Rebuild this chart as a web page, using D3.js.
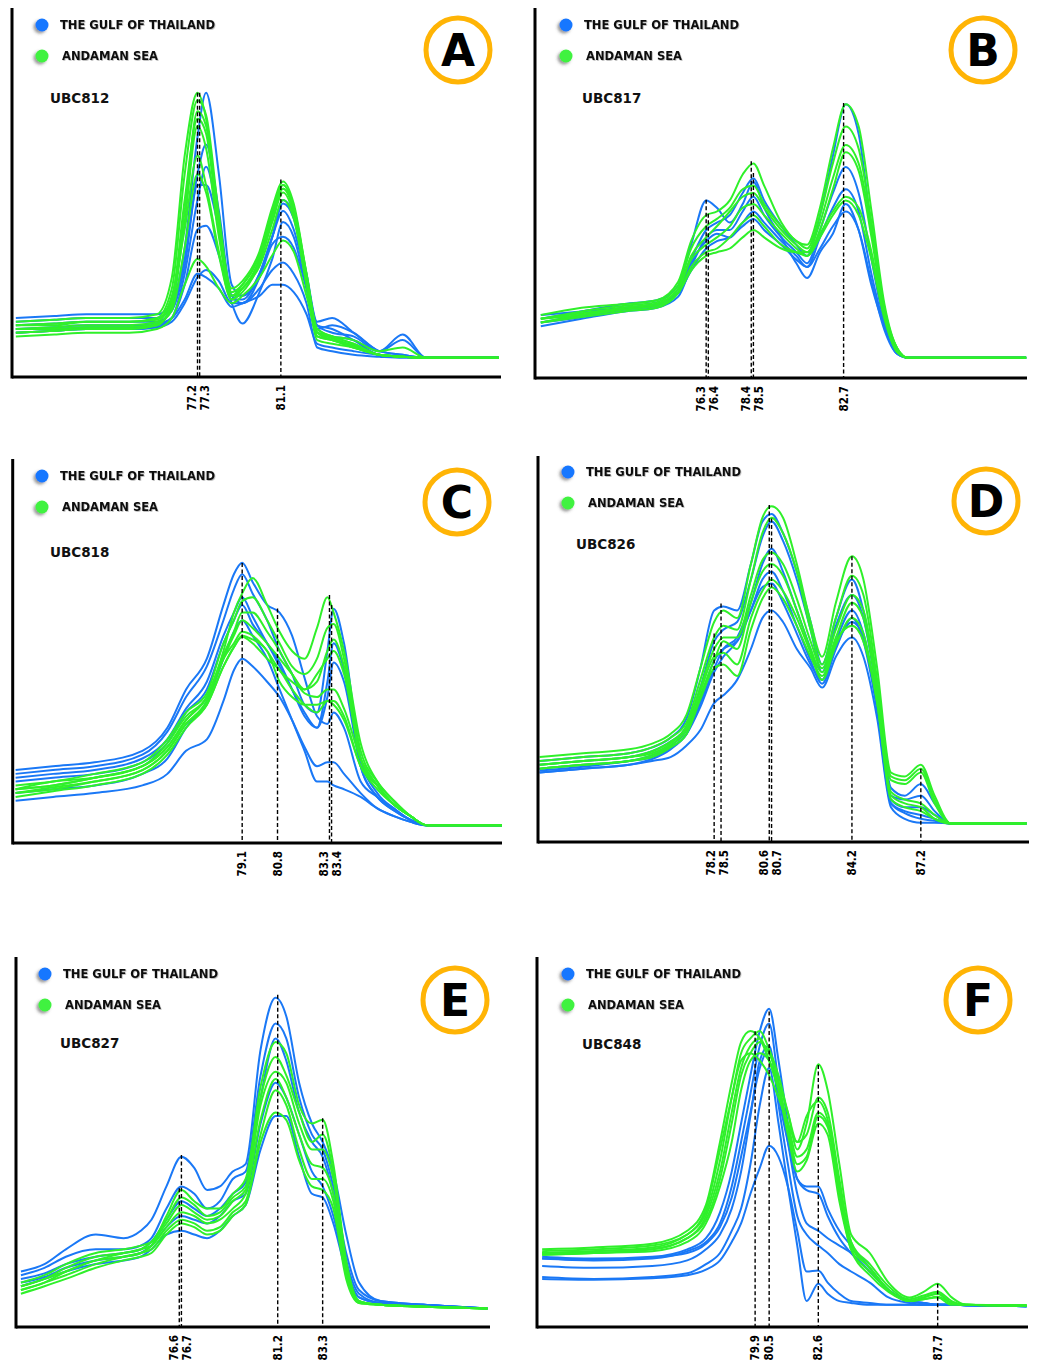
<!DOCTYPE html>
<html><head><meta charset="utf-8">
<script src="https://cdn.jsdelivr.net/npm/d3@7"></script>
<style>body{margin:0;background:#fff}svg{display:block}</style>
</head><body>
<svg id="chart" width="1037" height="1361"></svg>
<script>
// ---------------- DATA ----------------
const seriesNames = ["THE GULF OF THAILAND", "ANDAMAN SEA"];
const panelLetters = ["A", "B", "C", "D", "E", "F"];
const markerNames = ["UBC812", "UBC817", "UBC818", "UBC826", "UBC827", "UBC848"];
const xDomains = [[68.52, 91.40], [68.33, 91.24], [68.06, 91.6], [70.53, 91.91], [68.97, 91.12], [70.58, 91.56]];

// Panel A – UBC812
const tempsA = [68.7,70.5,72,74,75.3,76.0,76.6,77.2,77.6,78.2,78.8,79.3,80.1,80.7,81.2,81.7,82.3,82.8,83.5,84.5,85.7,86.8,87.9,89.5,91.3];
const blueA = [
 [16,16.5,17,17,17,20,35,65,77,55,25,22,28,38,45,40,26,14,13,10,6,5.5,5.2,5.2,5.2],
 [15,15.5,16,16,16,19,32,55,63,45,22,20,27,38,48,44,28,15,16,12,7,6,5.2,5.2,5.2],
 [12,12.5,13,13,13.5,16,28,48,57,42,21,21,28,38,47,43,27,14,12,11,7,11.5,5.2,5.2,5.2],
 [13,13,13.5,13.5,14,16,25,40,41,33,20,14.5,23,32,42,38,24,12,11,10,7,10,5.2,5.2,5.2],
 [12,12.5,13,13,13.5,15,20,27,29,26,20,20,24,29,31,28,20,8,7,6,5.5,5.2,5.2,5.2,5.2],
 [13,13.5,14,14,14.5,16,21,28,27,24,19,20,22,25,25,23,17,9,8,7,6,5.5,5.2,5.2,5.2],
 [14,14.5,15,15,15,18,30,52,52,40,22,22,27,36,38,35,24,13,14,12,7,6,5.2,5.2,5.2]
];
const greenA = [
 [15,15.5,16,16,17,27,60,77,70,42,24,26,34,46,53,47,28,13,11,9,6,5.5,5.2,5.2,5.2],
 [14,14.5,15,15,16,24,55,75,71,44,23,25,33,45,52,46,27,12,10.5,8.5,6,5.5,5.2,5.2,5.2],
 [13,13.5,14,14,15,21,48,70,66,40,22,24,32,44,51,45,26,11,10,8,6,5.5,5.2,5.2,5.2],
 [12,12.5,13,13,14,19,42,68,62,38,22,24,31,42,50,44,25,10,9,8,6,5.5,5.2,5.2,5.2],
 [13,13,13.5,13.5,14.5,18,35,55,50,33,21,24,30,40,48,43,25,11,10,8,6,5.5,5.2,5.2,5.2],
 [11,11.5,12,12,13,16,25,32,30,24,20,22,27,33,37,34,22,12,11,10,7,8,5.2,5.2,5.2],
 [12,12.5,13,13,14,20,45,72,68,41,22,25,33,45,52,46,27,12,10,8.5,6,5.5,5.2,5.2,5.2],
 [14,14,15,15,15.5,22,40,60,52,34,21,23,31,43,51,46,28,13,11,9,6,5.5,5.2,5.2,5.2]
];
const ticksA = [77.2, 77.3, 81.1];
const tickTopsA = [77, 77, 53.5];

// Panel B – UBC817
const tempsB = [68.6,70.5,72.5,74,75,75.6,76.3,76.8,77.4,78.0,78.5,79.0,79.8,80.5,81.0,81.6,82.2,82.8,83.4,84.0,84.6,85.2,85.7,88,91.2];
const blueB = [
 [16,18,20,21,25,36,48,46,42,47,53,46,38,31,27,34,39,47,40,25,14,7,5.5,5.5,5.5],
 [15,17,19,20,24,32,40,42,44,50,54,48,41,36,33,44,60,74,66,40,18,7,5.5,5.5,5.5],
 [14,16,18,19,22,30,38,40,40,45,49,44,38,34,31,40,50,57,50,32,15,7,5.5,5.5,5.5],
 [15,16.5,18.5,19.5,23,31,37,39,38,42,45,42,37,33,30,38,46,51,45,28,14,6.5,5.5,5.5,5.5],
 [17,18,19,20,23,29,35,37,38,41,43,40,36,32,30,35,41,45,40,26,13,6.5,5.5,5.5,5.5]
];
const greenB = [
 [17,19,20,21,26,37,44,45,48,55,58,52,42,37,36,46,62,74,68,45,20,8,5.5,5.5,5.5],
 [16,18,19.5,20.5,25,35,41,43,46,51,52,47,41,37,35,44,58,68,62,42,19,8,5.5,5.5,5.5],
 [15,17,19,20,24,33,38,41,45,49,50,46,40,36,34,42,54,63,58,40,18,8,5.5,5.5,5.5],
 [16,17.5,19,20,24,32,36,38,41,46,47,44,39,35,33,40,51,61,56,38,17,7,5.5,5.5,5.5],
 [15,16.5,18,19,23,30,34,35,38,42,44,41,36,34,33,38,44,48,44,32,16,7,5.5,5.5,5.5],
 [16,17,18.5,19.5,23,29,33,34,35,38,40,38,35,34,34,39,45,49,46,34,17,7,5.5,5.5,5.5]
];
const ticksB = [76.3, 76.4, 78.4, 78.5, 82.7];
const tickTopsB = [48.2, 44.4, 58.6, 55.4, 74.3];

// Panel C – UBC818
const tempsC = [68.2,70,72,74.3,75.5,76.4,77.4,78.2,78.7,79.1,79.6,80.3,80.9,81.5,82.1,82.7,83.2,83.5,84.0,84.8,85.6,86.4,87.2,88.0,91.6];
const blueC = [
 [19,20,21,24,30,40,48,62,70,73,68,62,60,54,43,33,31,34,30,16,12,9,6,4.6,4.6],
 [18,19,20,23,29,38,46,58,66,70,65,58,50,44,36,34,50,61,52,22,13,9,6,4.6,4.6],
 [16,17,18,21,26,34,40,52,58,62,57,52,46,40,34,30,42,52,45,20,12,8.5,6,4.6,4.6],
 [13,14,15,18,22,30,37,48,55,58,54,48,40,32,24,16,16,15,14,12,9,7,5.5,4.6,4.6],
 [11,12,13,15,18,24,27,37,45,48,46,42,38,32,25,20,21,21,18,13,9,7,5.5,4.6,4.6],
 [17,18,19,22,27,35,42,54,60,64,59,52,47,40,33,30,38,47,42,20,12,8.5,6,4.6,4.6]
];
const greenC = [
 [14,16,17,20,26,33,38,50,60,65,69,62,55,50,48,56,64,60,50,26,16,11,7,4.6,4.6],
 [15,16,18,21,27,34,39,52,58,63,64,58,52,46,44,48,56,57,48,24,16,11,7,4.6,4.6],
 [13,14,16,19,24,31,37,48,54,58,56,52,48,44,40,42,50,53,46,22,15,10,7,4.6,4.6],
 [14,15,17,20,25,32,38,48,52,55,54,50,45,42,40,44,48,50,44,22,15,10,7,4.6,4.6],
 [12,13.5,15,18,23,30,36,46,51,53.7,52,48,45,40,36,34,37,36,32,20,14,10,7,4.6,4.6],
 [13,14.5,16,19,24,31,36,46,51,54,53,50,42,38,36,36,37,37,33,20,15,10,7,4.6,4.6],
 [14,15,17,20,25,32,38,49,55,60,60,55,50,44,39,38,40,40,35,22,15,10,7,4.6,4.6]
];
const ticksC = [79.1, 80.8, 83.3, 83.4];
const tickTopsC = [72.9, 61.1, 64.6, 62];

// Panel D – UBC826
const tempsD = [70.6,72.5,74.5,75.5,76.3,77.0,77.6,78.2,78.6,79.2,79.8,80.3,80.7,81.2,81.8,82.4,82.9,83.5,84.2,84.7,85.3,85.9,86.5,87.2,87.8,88.5,91.8];
const blueD = [
 [21,22,23,24.5,27,32,45,60,61,60,72,83,85,80,70,57,46,58,68,60,40,14,12,15,10,4.8,4.8],
 [20,21,22,23.5,26,30,40,52,55,57,68,79,83,78,68,55,44,56,64,58,38,12,11,12,8,4.8,4.8],
 [18.5,19.5,21,22,24.5,28,36,45,50,53,62,72,76,70,60,50,42,52,60,54,35,11,9,9,7,4.8,4.8],
 [19,20,21,22.5,25,29,37,47,50,52,60,68,70,65,56,47,41,50,58,52,34,10,8,7,6,4.8,4.8],
 [18,19,20,21,22,25,29,36,38,42,50,58,60,57,50,45,40,48,53,48,32,9,6,5,5,4.8,4.8],
 [18,19,20,21.5,24,28,35,44,48,52,60,66,67,62,54,46,42,51,57,53,35,10,7.5,6,5.5,4.8,4.8]
];
const greenD = [
 [22,23,24,25.5,28,33,45,57,60,58,72,84,87,84,72,57,48,62,74,68,45,18,17,20,12,4.8,4.8],
 [21,22,23,24.5,27,31,42,53,56,55,68,80,84,80,70,55,46,58,69,64,42,17,16,19,11,4.8,4.8],
 [20,21,22,23.5,26,30,40,50,53,53,64,73,75,72,63,52,45,55,64,60,40,16,15,18,10,4.8,4.8],
 [19,20,21,22.5,25,29,38,47,52,50,62,70,72,69,60,50,44,53,62,58,38,13,11,10,7,4.8,4.8],
 [20,21,22,23,25.5,30,39,48,49,46,58,65,68,65,58,49,42,51,58,54,36,12,10,9,6,4.8,4.8],
 [19,20,21,22,24.5,28,37,45,46,43,55,63,66,63,56,48,43,52,56,52,36,11,9,8,6,4.8,4.8]
];
const ticksD = [78.2, 78.5, 80.6, 80.7, 84.2, 87.2];
const tickTopsD = [54, 61.8, 87.3, 83.8, 74, 19];

// Panel E – UBC827
const tempsE = [69.2,70.3,71.3,72.7,74.0,74.8,75.3,76.0,76.7,77.3,77.9,78.5,79.1,79.7,80.4,81.1,81.6,82.2,82.8,83.3,83.8,84.4,85.0,86.0,88.0,91.0];
const blueE = [
 [15,17,21,25,24,26,29,38,46,43,37,38,42,44,75,89,84,66,55,50,42,25,12,7,6,5],
 [14,16,19,21,21,22,24,32,38,36,32,34,40,42,68,82,78,62,52,48,38,20,10,7,6,5],
 [13,14.5,17,19,20,21,23,29,34,32,30,32,36,39,62,78,72,58,50,46,36,18,9,6.5,6,5],
 [12,13.5,16,18,19,20,22,27,30,29,28,30,34,36,55,66,62,52,42,38,30,16,8,6.5,6,5],
 [11,13,15,17,18,19,21,25,26,25,24,26,30,33,48,57,57,46,36,35,28,15,8,6.5,6,5]
];
const greenE = [
 [10,12,15,18,19,20,22,30,37,34,32,32,36,40,65,77,74,60,55,56,44,18,7,6,5.5,5],
 [11,13,16,19,20,21,23,29,35,33,30,31,35,38,62,73,68,58,50,52,42,17,7,6,5.5,5],
 [12,14,17,20,21,22,23,28,33,31,29,30,34,37,60,69,66,55,48,48,40,16,7,6,5.5,5],
 [11,13,15,18,20,21,22,27,31,30,28,29,32,36,56,67,62,52,44,43,36,15,7,6,5.5,5],
 [10,12,14,17,19,20,21,26,29,28,26,27,31,34,52,64,60,48,40,40,34,14,6.5,6,5.5,5],
 [9,11,13,16,18,19,20,25,28,27,25,26,30,33,50,58,56,45,38,37,32,13,6.5,6,5.5,5]
];
const ticksE = [76.6, 76.7, 81.2, 83.3];
const tickTopsE = [37.5, 46.5, 89.8, 56.4];

// Panel F – UBC848
const tempsF = [70.8,73,75.5,77.0,77.8,78.4,78.9,79.3,79.7,80.1,80.5,80.9,81.3,81.7,82.1,82.6,83.0,83.5,84.0,84.8,85.6,86.5,87.1,87.7,88.3,88.9,91.5];
const blueF = [
 [19,18.5,19,21,24,31,42,55,68,80,86,72,55,40,38,38,32,26,22,16,10,7,6.5,6,6,5.9,5.6],
 [18.5,18,18.5,20.5,23,28,38,50,63,76,82,66,50,36,28,26,24,22,20,15,10,7,6.5,6,6,5.9,5.6],
 [16.5,16,16.5,18,21,25,32,42,57,72,76,60,44,30,25,22,20,17,15,12,8,6.5,6,6,6,5.9,5.6],
 [13.5,13,13.5,14.5,17,20,26,32,44,60,70,55,38,22,7,11.7,9,7,6.5,6,6,6,6,6,6,5.9,5.6],
 [13,12.8,13.2,14,15.5,18,23,28,36,43,49,46,38,26,15,15.3,12,9,7,6.5,6,6,6,6,6,5.9,5.6],
 [18.5,18.2,18.8,20,22.5,27,35,46,58,70,75,62,50,40,37,36,30,24,20,15,10,7,6.5,6,6,5.9,5.6]
];
const greenF = [
 [21,21.5,22.5,26,33,50,66,77,80,78,72,66,58,48,55,71,64,44,25,20,12,8,9.5,11.7,8,6,5.8],
 [20,20.5,21.5,25,31,45,62,74,78,80,75,68,58,50,52,62,58,40,23,17,11,7.5,8.5,9.5,7,6,5.8],
 [19.5,20,21,24,30,42,58,70,76,78,72,64,55,46,48,58,55,38,22,16,10,7,8,9,6.5,6,5.8],
 [20,20.5,21,24,29,40,55,68,74,77,74,66,54,44,46,57,54,36,21,15,10,7,7.5,8.2,6.5,6,5.8],
 [19.5,20,20.5,23,28,38,50,64,72,74,72,64,52,42,45,55,52,34,21,14,9.5,7,7.5,8,6,6,5.8],
 [20.5,21,22,25,32,48,62,72,74,72,68,62,55,50,57,61,56,38,23,16,10,7,8,9,6.5,6,5.8]
];
const ticksF = [79.9, 80.5, 82.6, 87.7];
const tickTopsF = [79.9, 85.3, 70.8, 11.7];

// ---------------- ASSEMBLY ----------------
const panelData = [
  {temps: tempsA, blue: blueA, green: greenA, ticks: ticksA, tops: tickTopsA},
  {temps: tempsB, blue: blueB, green: greenB, ticks: ticksB, tops: tickTopsB},
  {temps: tempsC, blue: blueC, green: greenC, ticks: ticksC, tops: tickTopsC},
  {temps: tempsD, blue: blueD, green: greenD, ticks: ticksD, tops: tickTopsD},
  {temps: tempsE, blue: blueE, green: greenE, ticks: ticksE, tops: tickTopsE},
  {temps: tempsF, blue: blueF, green: greenF, ticks: ticksF, tops: tickTopsF}
];

// layout (pixel frames)
const frames = [
  {l: 12,   r: 501,  t: 8,   b: 377,  dot: [42, 25],   lab: [50, 103],   circ: [458, 50]},
  {l: 535,  r: 1027, t: 8,   b: 378,  dot: [566, 25],  lab: [582, 103],  circ: [983, 50]},
  {l: 12.7, r: 502,  t: 459, b: 843,  dot: [42, 476],  lab: [50, 557],   circ: [457, 502]},
  {l: 538,  r: 1029, t: 456, b: 842,  dot: [568, 472], lab: [576, 549],  circ: [986, 501]},
  {l: 16,   r: 490,  t: 957, b: 1327, dot: [45, 974],  lab: [60, 1048],  circ: [455, 1000]},
  {l: 537,  r: 1028, t: 957, b: 1327, dot: [568, 974], lab: [582, 1049], circ: [978, 1000]}
];

const BLUE = "#1a78f6", GREEN = "#2ff02a";
const DOT_BLUE = "#1677ff", DOT_GREEN = "#3ff23f";
const ORANGE = "#ffb405";
const FONT = "'DejaVu Sans', Verdana, sans-serif";

const svg = d3.select("#chart");
const defs = svg.append("defs");
const f1 = defs.append("filter").attr("id", "dotShadow").attr("x", "-60%").attr("y", "-60%").attr("width", "220%").attr("height", "220%");
f1.append("feDropShadow").attr("dx", -2).attr("dy", 2).attr("stdDeviation", 1.4)
  .attr("flood-color", "#444").attr("flood-opacity", 0.55);
const f2 = defs.append("filter").attr("id", "txtShadow").attr("x", "-5%").attr("y", "-30%").attr("width", "110%").attr("height", "160%");
f2.append("feDropShadow").attr("dx", 0.8).attr("dy", 0.8).attr("stdDeviation", 0.5)
  .attr("flood-color", "#000").attr("flood-opacity", 0.3);

panelData.forEach((pd, i) => {
  const fr = frames[i];
  const g = svg.append("g");
  const x = d3.scaleLinear().domain(xDomains[i]).range([fr.l, fr.r]);
  const y = d3.scaleLinear().domain([0, 100]).range([fr.b, fr.t]);

  const line = d3.line()
    .x(d => x(d[0]))
    .y(d => y(d[1]))
    .curve(d3.curveMonotoneX);

  const curves = [];
  pd.blue.forEach(vals => curves.push({color: BLUE, pts: pd.temps.map((t, k) => [t, vals[k]])}));
  pd.green.forEach(vals => curves.push({color: GREEN, pts: pd.temps.map((t, k) => [t, vals[k]])}));

  g.append("g").selectAll("path").data(curves).join("path")
    .attr("d", d => line(d.pts))
    .attr("fill", "none")
    .attr("stroke", d => d.color)
    .attr("stroke-width", 2)
    .attr("stroke-linejoin", "round");

  // dashed peak markers
  g.append("g").selectAll("line").data(pd.ticks).join("line")
    .attr("x1", d => x(d)).attr("x2", d => x(d))
    .attr("y1", (d, k) => y(pd.tops[k])).attr("y2", fr.b)
    .attr("stroke", "#000").attr("stroke-width", 1.4)
    .attr("stroke-dasharray", "4,2.5");

  // x axis with peak temperatures as tick labels
  const xAxis = d3.axisBottom(x).tickValues(pd.ticks).tickSize(0).tickFormat(d3.format(".1f"));
  const ax = g.append("g").attr("transform", `translate(0,${fr.b})`).call(xAxis);
  ax.select(".domain").remove();
  const xs = pd.ticks.map(t => x(t));
  const pos = xs.slice();
  for (let k = 1; k < pos.length; k++) {
    if (pos[k] - pos[k - 1] < 12) {
      const mid = (xs[k] + xs[k - 1]) / 2;
      pos[k - 1] = Math.min(pos[k - 1], mid - 6.5);
      pos[k] = mid + 6.5;
    }
  }
  ax.selectAll(".tick").each(function (d, k) {
    const tk = d3.select(this);
    tk.attr("transform", `translate(${pos[k]},0)`);
    tk.select("text")
      .attr("transform", "rotate(-90)")
      .attr("x", -8).attr("y", 0).attr("dy", "0.36em")
      .attr("text-anchor", "end")
      .attr("fill", "#000")
      .style("font-family", "'DejaVu Sans Condensed', 'DejaVu Sans', sans-serif")
      .style("font-weight", "bold")
      .style("font-size", "11.5px");
  });

  g.append("line").attr("x1", fr.l).attr("x2", fr.r).attr("y1", fr.b).attr("y2", fr.b)
    .attr("stroke", "#000").attr("stroke-width", 3);
  g.append("line").attr("x1", fr.l).attr("x2", fr.l).attr("y1", fr.t).attr("y2", fr.b + 1.5)
    .attr("stroke", "#000").attr("stroke-width", 3);

  // legend
  const leg = g.append("g");
  [[DOT_BLUE, seriesNames[0], 0, 18], [DOT_GREEN, seriesNames[1], 31, 20]].forEach(([c, name, dy, tx]) => {
    leg.append("circle").attr("cx", fr.dot[0]).attr("cy", fr.dot[1] + dy).attr("r", 6.5)
      .attr("fill", c).attr("filter", "url(#dotShadow)");
    leg.append("text").attr("x", fr.dot[0] + tx).attr("y", fr.dot[1] + dy).attr("dy", "0.36em")
      .text(name)
      .style("font-family", FONT).style("font-weight", "bold").style("font-size", "11.5px")
      .attr("fill", "#111").attr("filter", "url(#txtShadow)");
  });

  // marker name
  g.append("text").attr("x", fr.lab[0]).attr("y", fr.lab[1]).text(markerNames[i])
    .style("font-family", FONT).style("font-weight", "bold").style("font-size", "13.5px")
    .attr("fill", "#111");

  // panel letter in orange ring
  g.append("circle").attr("cx", fr.circ[0]).attr("cy", fr.circ[1]).attr("r", 32)
    .attr("fill", "#fff").attr("stroke", ORANGE).attr("stroke-width", 5);
  g.append("text").attr("x", fr.circ[0]).attr("y", fr.circ[1]).attr("dy", "0.36em")
    .attr("text-anchor", "middle").text(panelLetters[i])
    .style("font-family", FONT).style("font-weight", "bold").style("font-size", "44px")
    .attr("fill", "#000");
});
</script>
</body></html>
